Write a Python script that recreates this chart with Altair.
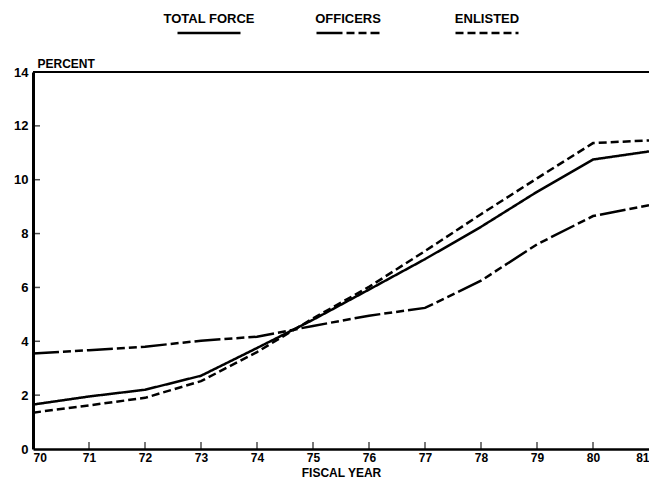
import altair as alt
import pandas as pd

# ---- data ----
years = [70, 71, 72, 73, 74, 75, 76, 77, 78, 79, 80, 81]
total_force = [1.65, 1.95, 2.2, 2.72, 3.75, 4.8, 5.92, 7.05, 8.25, 9.55, 10.75, 11.05]
officers = [3.55, 3.67, 3.8, 4.02, 4.17, 4.57, 4.95, 5.24, 6.25, 7.6, 8.65, 9.05]
enlisted = [1.35, 1.62, 1.9, 2.52, 3.6, 4.85, 6.02, 7.35, 8.72, 10.05, 11.36, 11.46]
series_names = ["TOTAL FORCE", "OFFICERS", "ENLISTED"]
x_tick_years = [71, 72, 73, 74, 75, 76, 77, 78, 79, 80]
y_tick_values = [2, 4, 6, 8, 10, 12, 14]
y_label_values = [0, 2, 4, 6, 8, 10, 12, 14]

rows = []
for name, vals in zip(series_names, [total_force, officers, enlisted]):
    for yr, v in zip(years, vals):
        rows.append({"year": yr, "percent": v, "series": name})
df = pd.DataFrame(rows)
xt = pd.DataFrame({"year": x_tick_years})
yt = pd.DataFrame({"percent": y_tick_values})
leg = pd.DataFrame({"series": series_names})

FONT = "Liberation Sans"
W, H = 616, 377

x_scale = alt.Scale(domain=[70, 81], nice=False, zero=False)
y_scale = alt.Scale(domain=[0, 14], nice=False, zero=True)
dash_scale = alt.Scale(domain=series_names, range=[[1, 0], [26, 4, 8, 4, 8, 4], [8, 4]])
legend_pos = alt.Scale(type="point", domain=series_names, range=[176, 454], padding=0)

x_axis = alt.Axis(values=years, format="d", title="FISCAL YEAR", ticks=False, grid=False,
                  labelFlush=True, labelPadding=3, domainWidth=2.5, domainColor="black",
                  labelFont=FONT, labelFontSize=12, labelFontWeight="bold", labelColor="black",
                  titleFont=FONT, titleFontSize=12, titleFontWeight="bold", titleColor="black",
                  titleBaseline="alphabetic", titleY=27)
y_axis = alt.Axis(values=y_label_values, format="d", title="PERCENT", ticks=False, grid=False,
                  labelPadding=5, domainWidth=3, domainColor="black",
                  labelFont=FONT, labelFontSize=13, labelFontWeight="bold", labelColor="black",
                  titleFont=FONT, titleFontSize=12, titleFontWeight="bold", titleColor="black",
                  titleAngle=0, titleAlign="left", titleBaseline="alphabetic", titleX=4, titleY=-5)

lines = alt.Chart(df).mark_line(strokeWidth=2.5, color="black", clip=True).encode(
    x=alt.X("year:Q", scale=x_scale, axis=x_axis),
    y=alt.Y("percent:Q", scale=y_scale, axis=y_axis),
    strokeDash=alt.StrokeDash("series:N", scale=dash_scale, legend=None),
)

x_ticks = alt.Chart(xt).mark_tick(orient="vertical", size=7, thickness=1.5,
                                  yOffset=-3.5, color="black").encode(
    x=alt.X("year:Q", scale=x_scale, axis=x_axis),
    y=alt.datum(0, scale=y_scale, axis=y_axis),
)
y_ticks = alt.Chart(yt).mark_tick(orient="horizontal", size=7, thickness=1.5,
                                  xOffset=3.5, color="black").encode(
    y=alt.Y("percent:Q", scale=y_scale, axis=y_axis),
    x=alt.datum(70, scale=x_scale, axis=x_axis),
)
top_frame = alt.Chart(xt).mark_rule(strokeWidth=1.5, color="black").encode(
    y=alt.datum(14, scale=y_scale, axis=y_axis),
)

plot = alt.layer(lines, x_ticks, y_ticks, top_frame)

# legend: label above a sample of each line style
leg_lines = alt.Chart(leg).mark_rule(strokeWidth=2.5, color="black",
                                     xOffset=-31.5, x2Offset=31.5).encode(
    x=alt.X("series:N", scale=legend_pos, axis=None),
    x2=alt.X2("series"),
    y=alt.value(-39),
    strokeDash=alt.StrokeDash("series:N", scale=dash_scale, legend=None),
)
leg_text = alt.Chart(leg).mark_text(font=FONT, fontSize=13, fontWeight="bold", color="black",
                                    align="center", baseline="alphabetic", dy=-10).encode(
    x=alt.X("series:N", scale=legend_pos, axis=None),
    y=alt.value(-39),
    text="series:N",
)
legend = alt.layer(leg_lines, leg_text)

chart = alt.layer(plot, legend).resolve_scale(x="independent").properties(
    width=W, height=H,
    autosize=alt.AutoSizeParams(type="none"),
    padding={"left": 25, "top": 64, "right": 0, "bottom": 32},
    background="white",
).configure_view(stroke=None).configure_mark(color="black")

chart.save("out.html", embed_options={"renderer": "svg", "actions": False})
